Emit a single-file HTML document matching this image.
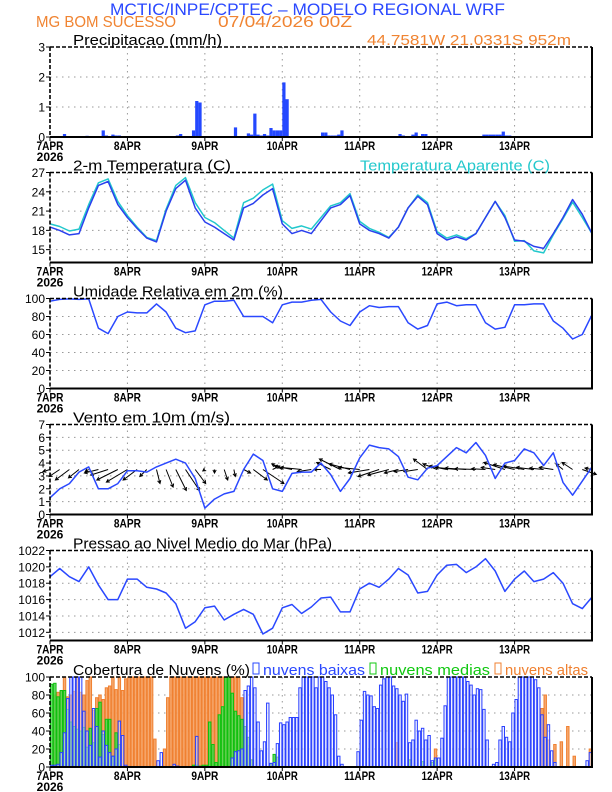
<!DOCTYPE html>
<html><head><meta charset="utf-8"><style>
html,body{margin:0;padding:0;background:#fff;}
svg{display:block;font-family:"Liberation Sans",sans-serif;}
</style></head><body>
<svg id="chart" width="612" height="792" viewBox="0 0 612 792" xmlns="http://www.w3.org/2000/svg">
<text x="110" y="15" font-size="17" fill="#2a48ff" textLength="395" lengthAdjust="spacingAndGlyphs">MCTIC/INPE/CPTEC – MODELO REGIONAL WRF</text>
<text x="36" y="27" font-size="16" fill="#f08432" textLength="140" lengthAdjust="spacingAndGlyphs">MG BOM SUCESSO</text>
<text x="218" y="27" font-size="16" fill="#f08432" textLength="134" lengthAdjust="spacingAndGlyphs">07/04/2026 00Z</text>
<text x="367" y="45" font-size="15" fill="#f08432" textLength="204" lengthAdjust="spacingAndGlyphs">44.7581W 21.0331S 952m</text>
<g id="plots"></g>
</svg>
<script>
// ---- data ----
const precip = [
0,0,0,0,0.1,0,0,0,0,0,0,0.04,0,0,0,0,0.22,0.05,0,0.08,0.05,0.05,0,0,
0,0,0,0,0,0,0,0,0,0,0,0,0,0,0,0.05,0.1,0,0,0,0.22,1.2,1.15,0,
0,0,0,0,0,0,0,0,0,0.32,0,0,0,0.12,0.08,0.78,0.08,0.05,0.1,0.05,0.3,0.22,0.22,0.22,
1.82,1.26,0.02,0.02,0.02,0.02,0.02,0.02,0.02,0.02,0.02,0.02,0.15,0.15,0.05,0.05,0.05,0.08,0.22,0,0,0,0,0,
0,0,0,0,0,0,0,0,0,0,0,0,0.1,0.05,0,0,0.08,0.15,0,0.1,0.1,0,0,0,
0,0,0,0,0,0,0,0,0,0,0,0,0,0,0.08,0.08,0.08,0.08,0.08,0.08,0.18,0.05,0.05,0,
0,0,0,0,0,0,0,0,0,0,0,0,0,0,0.02,0.02,0.02,0.02,0.02,0.02,0.02,0.02,0.02,0.02];
const temp2m = [18.5,18.0,17.3,17.5,21.5,25.0,25.6,22.0,20.0,18.3,16.8,16.2,
21.0,24.5,25.8,21.5,19.3,18.5,17.5,16.5,21.5,22.2,23.5,24.5,
19.0,17.5,18.0,17.5,19.5,21.5,22.0,23.4,19.0,18.0,17.5,16.8,18.5,21.5,23.3,22.0,
17.5,16.5,17.0,16.5,17.5,20.0,22.5,20.0,16.5,16.3,15.5,15.2,17.5,20.0,22.8,20.5,17.5];
const tempApparent = [19.0,18.6,17.9,18.2,22.0,25.4,26.0,22.5,20.3,18.5,16.9,16.4,
21.3,25.0,26.2,22.3,20.0,19.2,18.0,16.8,22.3,23.0,24.3,25.2,
19.5,18.3,18.7,18.2,20.0,21.8,22.3,23.7,19.4,18.3,17.7,16.9,18.5,21.5,23.5,22.3,
17.8,16.8,17.3,16.7,17.5,20.0,22.5,20.3,16.3,16.4,14.8,14.5,17.3,19.8,22.4,20.0,17.5];
const humidity = [97,99,99.5,99,99.5,67,61,80,85,84,84,94,
85,67,62,64,93,97,97,98,80,80,80,73,
93,96,96,98,99,85,75,70,85,92,90,91,91,73,66,70,
94,96,92,93,93,73,66,68,93,93,94,94,75,67,55,60,82];
const windSpeed = [1.3,2.0,2.4,3.3,3.7,2.0,2.0,2.4,3.4,3.4,3.3,3.7,
4.0,4.3,4.0,2.8,0.5,1.2,1.6,1.8,3.5,4.7,4.2,2.0,
1.8,3.2,3.3,3.3,4.0,3.1,1.8,2.8,4.4,5.4,5.2,5.1,4.5,2.9,2.7,3.6,
3.8,4.5,5.2,4.8,5.6,4.6,2.8,4.0,4.2,5.1,4.8,3.8,4.8,2.5,1.5,2.6,3.7];
const windU = [-1,-1.5,-2,-1.5,-0.5,-2,-2.5,-3,-3,-2,-1,0.5,1,1.5,2,1.5,-0.3,0,0.5,0.2,1,2,3,1,
-1.5,-2.5,-3,-2,-1,-2,-3,-3,-3,-3,-3,-3,-2,-2,-2,-2,-2,-2.5,-3,-3,-3,-2,-2,-3,-3,-3,-2.5,-2,-2,-1,-1.5,2,-1];
const windV = [-0.3,-1,-1.5,-1.2,-0.3,-0.5,-0.8,-1.5,-1.8,-1.5,-1,-2,-2.5,-3,-3,-2,-0.2,-0.5,-1.5,-1,-0.5,-1.5,-2,0.5,
0.8,0.5,0.3,-0.3,0,1,1.5,0.8,0.3,-0.5,-1,-0.8,-0.5,-0.3,-0.3,1.5,0.8,0.5,0.3,0.2,0.1,0.1,0.3,1,0.7,0.5,0.3,0.2,0.3,0.8,1,-0.7,0.2];
const pressure = [1018.8,1019.8,1018.8,1018.2,1020.0,1017.8,1016.0,1016.0,1018.5,1018.5,1017.5,1017.3,
1016.8,1015.5,1012.5,1013.3,1015.0,1015.2,1013.5,1014.2,1014.8,1014.2,1011.8,1012.5,
1015.0,1015.4,1014.3,1015.1,1016.2,1016.3,1014.5,1014.5,1017.3,1018.0,1017.5,1018.5,1019.8,1019.0,1016.8,1017.0,
1019.0,1020.2,1020.3,1019.3,1020.0,1021.0,1019.5,1017.0,1018.5,1019.5,1018.2,1018.5,1019.3,1018.0,1015.5,1014.9,1016.3];
const cloudLow = [
2,2,3,16,38,76,100,100,100,100,62,40,24,65,45,11,40,24,16,12,20,51,35,2,
0,0,0,0,0,0,0,0,0,7,16,0,0,0,3,1,0,0,0,0,0,34,0,0,
0,0,0,0,0,0,0,0,10,17,18,20,85,90,100,88,50,18,28,71,4,5,26,49,
47,50,55,55,55,88,100,100,100,100,88,100,100,95,88,80,58,12,3,0,0,0,0,17,
52,84,80,79,67,65,91,98,100,100,90,87,80,73,81,27,30,52,40,43,30,35,7,10,
10,32,68,100,100,100,100,100,100,95,91,80,87,86,64,30,0,3,5,30,45,33,28,60,
75,100,100,100,100,100,97,88,58,33,47,18,5,0,0,0,0,0,0,0,0,0,7,16];
const cloudMid = [
92,93,78,85,85,64,50,45,42,40,44,22,43,27,65,72,36,53,53,12,38,25,0,0,
0,0,0,0,0,0,0,0,0,0,0,0,0,0,0,0,0,0,0,0,2,2,1,2,
2,50,25,5,58,67,100,100,82,62,57,53,45,33,8,0,0,0,0,0,4,14,11,0,
0,0,0,0,0,0,0,0,0,0,0,0,0,0,0,0,0,0,0,0,0,0,0,0,
0,0,0,0,0,0,0,0,0,0,0,0,0,0,0,8,0,0,0,6,0,0,5,8,
0,0,0,0,0,0,0,0,0,0,0,0,0,0,0,0,0,0,0,0,0,0,0,0,
0,0,0,0,0,0,0,0,0,0,0,0,0,0,0,0,0,0,0,0,0,0,0,0];
const cloudHigh = [
0,80,83,84,100,78,80,84,98,83,80,96,100,63,77,80,75,88,90,100,86,100,85,98,
100,100,100,100,100,100,100,100,31,0,0,20,77,100,100,100,100,100,100,100,100,100,100,100,
100,100,100,100,100,100,100,100,100,100,100,77,0,24,8,0,0,0,0,0,0,0,0,0,
0,0,0,0,0,0,0,0,0,0,0,0,0,0,0,0,0,0,0,0,0,0,0,0,
0,0,0,0,0,0,0,0,0,0,0,27,0,0,0,0,0,0,0,0,0,0,0,20,
0,0,0,0,0,0,0,0,0,0,0,0,0,0,0,0,0,0,0,0,0,0,0,0,
0,0,0,0,0,0,0,0,65,80,30,0,25,0,28,0,45,0,12,0,0,0,0,20];
const dayLabels = ["7APR","8APR","9APR","10APR","11APR","12APR","13APR"];
const yearLabel = "2026";
const precipTicks = [0,1,2,3];
const tempTicks = [15,18,21,24,27];
const pctTicks = [0,20,40,60,80,100];
const windTicks = [0,1,2,3,4,5,6,7];
const presTicks = [1012,1014,1016,1018,1020,1022];

// ---- layout ----
const NS = "http://www.w3.org/2000/svg";
const root = document.getElementById('plots');
const X0 = 50, X1 = 592, HMAX = 168;
const xs = h => X0 + (X1 - X0) * h / HMAX;
function mk(tag, attrs, parent){
  const e = document.createElementNS(NS, tag);
  for (const k in attrs) e.setAttribute(k, attrs[k]);
  (parent || root).appendChild(e);
  return e;
}
function panel(name, top, bot, ymin, ymax, ticks, title, tw){
  const g = mk('g', {});
  
  
  const ys = v => bot - (bot - top) * (v - ymin) / (ymax - ymin);
  ticks.forEach(t => {
    if (t === ymin || t === ymax) return;
    const l = mk('line', {x1:X0, x2:X1, y1:ys(t), y2:ys(t), stroke:'#999', 'stroke-width':1, 'stroke-dasharray':'1.5,4.5'}, g);
    
    
  });
  for (let d = 1; d < 7; d++) {
    const l = mk('line', {x1:xs(d*24), x2:xs(d*24), y1:top, y2:bot, stroke:'#999', 'stroke-width':1, 'stroke-dasharray':'1.5,4.5'}, g);
    
    
  }
  const plot = mk('g', {}, g);
  
  
  const fr = mk('g', {}, g);
  
  
  mk('line', {x1:X0, x2:X1, y1:top, y2:top, stroke:'#000', 'stroke-width':1.6, 'stroke-dasharray':'4,2'}, fr);
  mk('line', {x1:X0, x2:X0, y1:top, y2:bot, stroke:'#000', 'stroke-width':1.6, 'stroke-dasharray':'4,2'}, fr);
  mk('line', {x1:X0, x2:X1+1, y1:bot, y2:bot, stroke:'#000', 'stroke-width':2}, fr);
  mk('line', {x1:X1, x2:X1, y1:top, y2:bot, stroke:'#000', 'stroke-width':2}, fr);
  ticks.forEach(t => {
    mk('line', {x1:X0-4, x2:X0, y1:ys(t), y2:ys(t), stroke:'#000', 'stroke-width':1}, fr);
    const tx = mk('text', {x:X0-5, y:ys(t)+4.5, 'font-size':12, 'text-anchor':'end', fill:'#000'}, g);
    
    
    tx.textContent = t;
  });
  dayLabels.forEach((lab, d) => {
    mk('line', {x1:xs(d*24), x2:xs(d*24), y1:bot, y2:bot+4, stroke:'#000', 'stroke-width':1}, fr);
    const tx = mk('text', {x:xs(d*24), y:bot+13, 'font-size':12, 'text-anchor':'middle', fill:'#000', 'font-weight':'bold', textLength: lab.length>4?31:27, lengthAdjust:'spacingAndGlyphs'}, g);
    
    
    tx.textContent = lab;
  });
  const yr = mk('text', {x:X0, y:bot+24, 'font-size':12, 'text-anchor':'middle', fill:'#000', 'font-weight':'bold'}, g);
  
  
  yr.textContent = yearLabel;
  const ti = mk('text', {x:73, y:top-2, 'font-size':15, fill:'#000', textLength:tw, lengthAdjust:'spacingAndGlyphs'}, g);
  
  
  ti.textContent = title;
  return {g, plot, ys};
}
function line(parent, vals, ys, color, nm){
  const d = vals.map((v,i) => (i?'L':'M') + xs(i*3).toFixed(1) + ',' + ys(v).toFixed(1)).join('');
  const p = mk('path', {d, fill:'none', stroke:color, 'stroke-width':1.5, 'stroke-linejoin':'round'}, parent);
  
  
  return p;
}

const P1 = panel('precip', 47, 137, 0, 3, precipTicks, 'Precipitacao (mm/h)', 149);
precip.forEach((v,h) => {
  if (v <= 0) return;
  const r = mk('rect', {x:xs(h), y:P1.ys(v), width:xs(1)-X0, height:P1.ys(0)-P1.ys(v), fill:'#2448ff'}, P1.plot);
  
  
});

const P2 = panel('temp', 172.5, 262.5, 13, 27, tempTicks, '2-m Temperatura (C)', 158);
line(P2.plot, tempApparent, P2.ys, '#22c8cc', 'apparent-temperature-line');
line(P2.plot, temp2m, P2.ys, '#2a40ee', 'temperature-line');
const lt = mk('text', {x:360, y:170.5, 'font-size':15, fill:'#22c8cc', textLength:190, lengthAdjust:'spacingAndGlyphs'}, P2.g);


lt.textContent = 'Temperatura Aparente (C)';

const P3 = panel('humidity', 298.5, 388.5, 0, 100, pctTicks, 'Umidade Relativa em 2m (%)', 210);
line(P3.plot, humidity, P3.ys, '#2a48ff', 'humidity-line');

const P4 = panel('wind', 424.5, 514.5, 0, 7, windTicks, 'Vento em 10m (m/s)', 157);
const k = 7;
windU.forEach((u,i) => {
  const v = windV[i];
  const x0 = xs(i*3), y0 = P4.ys(3.5);
  const x1 = x0 + u*k, y1 = y0 - v*k;
  const ang = Math.atan2(y1-y0, x1-x0);
  const ah = 3.5;
  const d = `M${x0.toFixed(1)},${y0.toFixed(1)}L${x1.toFixed(1)},${y1.toFixed(1)}M${(x1-ah*Math.cos(ang-0.5)).toFixed(1)},${(y1-ah*Math.sin(ang-0.5)).toFixed(1)}L${x1.toFixed(1)},${y1.toFixed(1)}L${(x1-ah*Math.cos(ang+0.5)).toFixed(1)},${(y1-ah*Math.sin(ang+0.5)).toFixed(1)}`;
  const a = mk('path', {d, fill:'none', stroke:'#000', 'stroke-width':1}, P4.plot);
  
  
});
line(P4.plot, windSpeed, P4.ys, '#2a48ff', 'wind-speed-line');

const P5 = panel('pressure', 550.5, 640.5, 1011, 1022, presTicks, 'Pressao ao Nivel Medio do Mar (hPa)', 259);
line(P5.plot, pressure, P5.ys, '#2a48ff', 'pressure-line');

const P6 = panel('clouds', 677, 767, 0, 100, pctTicks, 'Cobertura de Nuvens (%)', 177);
const bw = xs(1) - X0;
function bars(vals, fill, stroke, nm, op){
  vals.forEach((v,h) => {
    if (v <= 0) return;
    const r = mk('rect', {x:xs(h)+0.4, y:P6.ys(v), width:bw-0.8, height:P6.ys(0)-P6.ys(v), fill, 'fill-opacity':op, stroke, 'stroke-width':1}, P6.plot);
    
    
  });
}
bars(cloudHigh, '#f5a060', '#f08030', 'high-cloud-bar', 0.9);
bars(cloudMid, '#50d850', '#10c010', 'mid-cloud-bar', 0.85);
bars(cloudLow, '#dfe4ff', '#2a40ff', 'low-cloud-bar', 0.5);
const leg = [['nuvens baixas','#2a48ff',253,102],['nuvens medias','#10c810',370,110],['nuvens altas','#f08030',495,83]];
leg.forEach(([t,c,x,w]) => {
  const g = mk('g', {}, P6.g);
  
  
  mk('rect', {x:x, y:663, width:6, height:11, fill:'none', stroke:c, 'stroke-width':1}, g);
  const tx = mk('text', {x:x+10, y:675, 'font-size':15, fill:c, textLength:w, lengthAdjust:'spacingAndGlyphs'}, g);
  tx.textContent = t;
});
</script>
</body></html>
